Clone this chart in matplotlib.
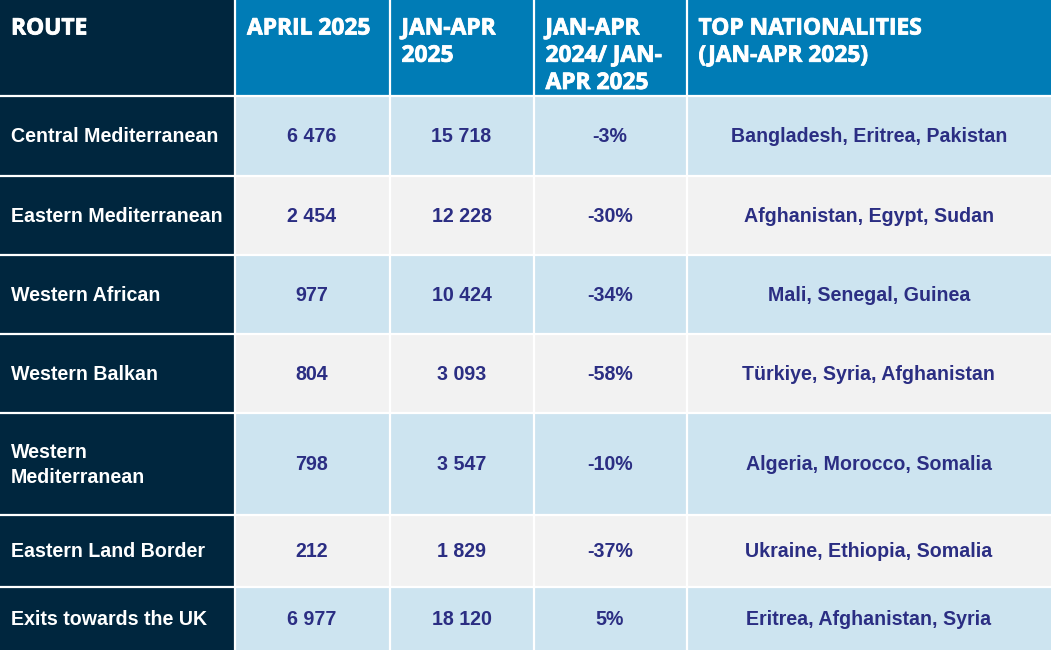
import matplotlib
matplotlib.use('Agg')
import matplotlib.pyplot as plt
import matplotlib.patheffects as pe
from matplotlib.patches import Rectangle

W, H = 1051, 650

headers = ['ROUTE', 'APRIL 2025', 'JAN-APR\n2025', 'JAN-APR\n2024/ JAN-\nAPR 2025', 'TOP NATIONALITIES\n(JAN-APR 2025)']
routes = ['Central Mediterranean', 'Eastern Mediterranean', 'Western African', 'Western Balkan',
          'Western\nMediterranean', 'Eastern Land Border', 'Exits towards the UK']
april = ['6 476', '2 454', '977', '804', '798', '212', '6 977']
jan_apr = ['15 718', '12 228', '10 424', '3 093', '3 547', '1 829', '18 120']
change = ['-3%', '-30%', '-34%', '-58%', '-10%', '-37%', '5%']
nationalities = ['Bangladesh, Eritrea, Pakistan', 'Afghanistan, Egypt, Sudan', 'Mali, Senegal, Guinea',
                 'Türkiye, Syria, Afghanistan', 'Algeria, Morocco, Somalia', 'Ukraine, Ethiopia, Somalia',
                 'Eritrea, Afghanistan, Syria']

col_x = [0, 234.5, 389.5, 533.5, 686.5, 1051]
row_y = [0, 96, 175.5, 254.5, 333.5, 412.5, 515, 586.5, 650]
header_dx = [11, 12.5, 12, 12, 12]

navy = '#00263e'
blue = '#007cb6'
light = '#cde4f0'
grey = '#f2f2f2'
text_blue = '#2b2e83'
line_w = 1.6

fig = plt.figure(figsize=(W / 100, H / 100), dpi=100)
ax = fig.add_axes([0, 0, 1, 1])
ax.set_xlim(0, W)
ax.set_ylim(H, 0)
ax.axis('off')


def cell(c, r, color):
    ax.add_patch(Rectangle((col_x[c], row_y[r]), col_x[c + 1] - col_x[c], row_y[r + 1] - row_y[r],
                           facecolor=color, edgecolor='none'))


# header row
for c, label in enumerate(headers):
    cell(c, 0, navy if c == 0 else blue)
    ax.text(col_x[c] + header_dx[c], 16.5, label, color='white', fontsize=16.4, fontweight='bold', family='Open Sans',
            va='top', ha='left', linespacing=1.18,
            path_effects=[pe.withStroke(linewidth=0.6, foreground='white')])

# body rows
for r in range(len(routes)):
    cy = (row_y[r + 1] + row_y[r + 2]) / 2 + 1.2
    cell(0, r + 1, navy)
    ax.text(10.7, cy, routes[r], color='white', fontsize=14.15, fontweight='bold', family='Liberation Sans',
            va='center', ha='left', linespacing=1.35)
    bg = light if r % 2 == 0 else grey
    values = [april[r], jan_apr[r], change[r], nationalities[r]]
    for c, v in enumerate(values):
        cell(c + 1, r + 1, bg)
        ax.text((col_x[c + 1] + col_x[c + 2]) / 2, cy, v, color=text_blue, fontsize=14.15, fontweight='bold',
                family='Liberation Sans', va='center', ha='center')

# white grid lines between cells, none on the outer edge
ax.vlines(col_x[1:-1], 0, H, color='white', linewidth=line_w)
ax.hlines(row_y[1:-1], 0, W, color='white', linewidth=line_w)

fig.savefig('out.png', dpi=100)
